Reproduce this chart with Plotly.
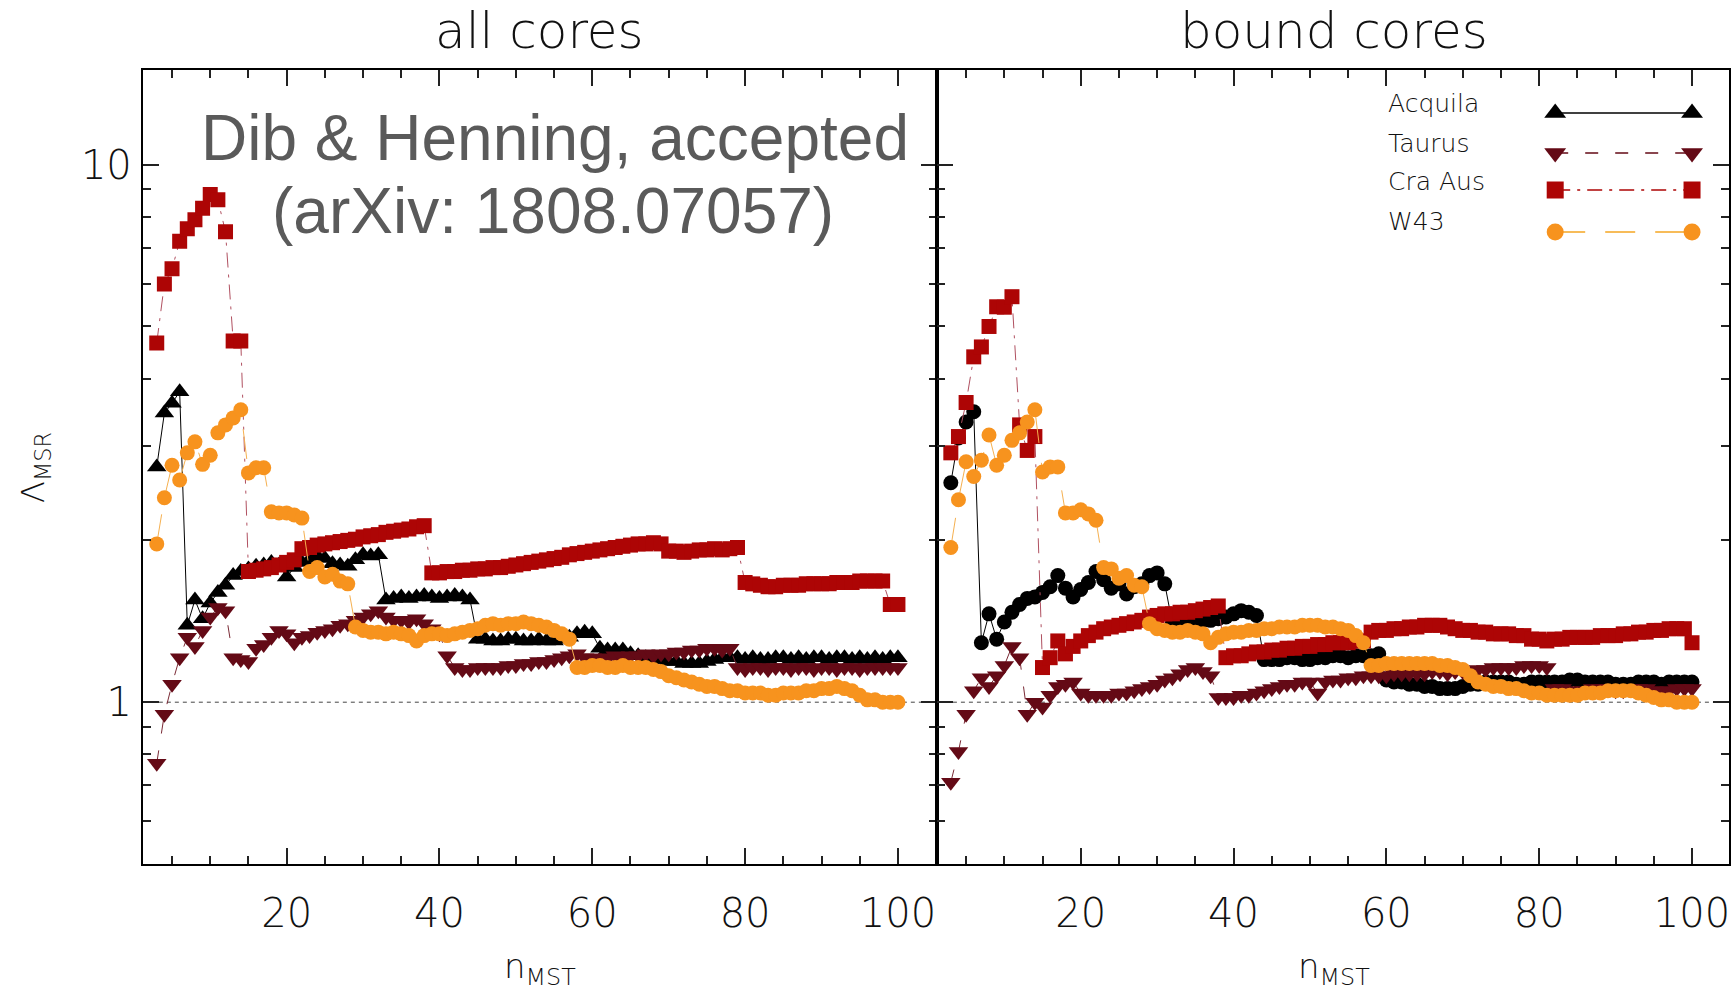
import math
import plotly.graph_objects as go

W, H = 1731, 992

# ---------------- data ----------------
N_MST = list(range(3, 101))
SERIES = ["Acquila", "Taurus", "Cra Aus", "W43"]

# all cores
AQ_ALL = [2.74, 3.45, 3.60, 3.78, 1.39, 1.55, 1.43, 1.53, 1.60, 1.65, 1.72, 1.75,
          1.77, 1.79, 1.80, 1.82, 1.80,
          1.71, 1.78, 1.82, 1.84, 1.87, 1.85, 1.81, 1.80, 1.79, 1.84, 1.88, 1.87, 1.88,
          1.55, 1.56, 1.57, 1.56, 1.57, 1.58, 1.57, 1.56, 1.57, 1.58, 1.57, 1.55,
          1.31, 1.31, 1.30, 1.30, 1.31, 1.31, 1.30, 1.30, 1.31, 1.30, 1.30, 1.31, 1.32, 1.34, 1.35, 1.34,
          1.26, 1.25, 1.25, 1.25, 1.23, 1.22, 1.21, 1.20, 1.20, 1.19, 1.19, 1.18, 1.18, 1.18, 1.19, 1.20, 1.21, 1.21,
          1.21, 1.20, 1.21, 1.20, 1.20, 1.21, 1.21, 1.20, 1.21, 1.20, 1.21, 1.21, 1.20, 1.21, 1.21, 1.20, 1.21, 1.20, 1.21, 1.20, 1.21, 1.21]
TA_ALL = [0.77, 0.95, 1.08, 1.21, 1.32, 1.27, 1.36, 1.44, 1.50, 1.48, 1.21, 1.20, 1.19, 1.26, 1.28, 1.32, 1.36, 1.34, 1.29, 1.32,
          1.33, 1.35, 1.36, 1.37, 1.39, 1.40, 1.42, 1.44, 1.46, 1.48,
          1.44, 1.42, 1.42, 1.41, 1.43, 1.40, 1.37, 1.34,
          1.22, 1.16, 1.15, 1.15, 1.16, 1.16, 1.16,
          1.16, 1.17, 1.17, 1.18, 1.18, 1.19, 1.19, 1.20, 1.21, 1.22, 1.23,
          1.21, 1.21, 1.20, 1.21, 1.22, 1.21, 1.22, 1.22, 1.23, 1.22, 1.23, 1.23, 1.24, 1.24, 1.25, 1.25, 1.26, 1.26, 1.25, 1.26,
          1.16, 1.15, 1.16, 1.16, 1.15, 1.16, 1.16, 1.15, 1.16, 1.16, 1.15, 1.16, 1.16, 1.15, 1.16, 1.16, 1.15, 1.16, 1.16, 1.16, 1.16, 1.16]
CRA_ALL = [4.66, 6.0, 6.4, 7.2, 7.6, 7.9, 8.3, 8.8, 8.6, 7.5, 4.7, 4.7,
           1.75, 1.76, 1.77, 1.78, 1.80, 1.82, 1.84,
           1.93, 1.94, 1.96, 1.97, 1.98, 1.99, 2.00, 2.01, 2.03, 2.04, 2.05, 2.07, 2.08, 2.09, 2.10, 2.12, 2.13,
           1.74, 1.74, 1.75, 1.75, 1.76, 1.76, 1.77, 1.77, 1.78,
           1.78, 1.79, 1.80, 1.81, 1.82, 1.83, 1.84, 1.85, 1.86, 1.88, 1.89, 1.90,
           1.91, 1.92, 1.93, 1.94, 1.95, 1.96, 1.97, 1.97, 1.98, 1.97,
           1.91, 1.91, 1.90, 1.91, 1.92, 1.92, 1.93, 1.92, 1.93, 1.94,
           1.67, 1.66, 1.65, 1.64, 1.64, 1.65, 1.65, 1.65, 1.66, 1.66, 1.66, 1.66, 1.67, 1.67, 1.67, 1.68, 1.68, 1.68, 1.68,
           1.52, 1.52]
W43_ALL = [1.97, 2.40, 2.76, 2.59, 2.91, 3.05, 2.77, 2.88, 3.17, 3.28, 3.38, 3.50, 2.67, 2.73, 2.73, 2.26, 2.25, 2.25, 2.23, 2.20,
           1.75, 1.78, 1.71, 1.73, 1.68, 1.66,
           1.38, 1.36, 1.35, 1.35, 1.34, 1.35, 1.34, 1.33, 1.30, 1.33, 1.34, 1.34, 1.33, 1.34, 1.35, 1.36, 1.37, 1.39, 1.40,
           1.39, 1.40, 1.40, 1.41, 1.40, 1.39, 1.38, 1.36, 1.34, 1.31,
           1.16, 1.16, 1.17, 1.17, 1.16, 1.16, 1.17, 1.16, 1.16, 1.16, 1.15, 1.14,
           1.12, 1.11, 1.10, 1.09, 1.08, 1.07, 1.07, 1.06, 1.05, 1.05, 1.04, 1.04, 1.04, 1.03, 1.03, 1.04, 1.04, 1.04,
           1.05, 1.05, 1.06, 1.06, 1.07, 1.06, 1.05, 1.03, 1.01, 1.01, 1.00, 1.00, 1.00]

# bound cores
AQ_BND = [2.56, 3.10, 3.32, 3.47, 1.29, 1.46, 1.31, 1.41, 1.47, 1.52, 1.56, 1.57, 1.60, 1.64, 1.72, 1.63, 1.57, 1.62, 1.67,
          1.75, 1.69, 1.63, 1.66, 1.59, 1.64, 1.66, 1.72, 1.74, 1.66,
          1.40, 1.40, 1.41, 1.41, 1.42, 1.42, 1.43, 1.44, 1.46, 1.48, 1.47, 1.45,
          1.20, 1.20, 1.20, 1.21, 1.21, 1.20, 1.20, 1.21, 1.21, 1.22, 1.22, 1.21, 1.22, 1.22, 1.22, 1.23,
          1.10, 1.09, 1.09, 1.08, 1.08, 1.07, 1.07, 1.06, 1.06, 1.06, 1.07, 1.08, 1.08, 1.09, 1.09, 1.09, 1.09, 1.08, 1.08, 1.09,
          1.09, 1.09, 1.09, 1.09, 1.10, 1.10, 1.09, 1.09, 1.09, 1.09, 1.08, 1.08, 1.08, 1.09, 1.09, 1.09, 1.08, 1.09, 1.09, 1.09, 1.09]
TA_BND = [0.71, 0.81, 0.95, 1.05, 1.11, 1.07, 1.12, 1.17, 1.27, 1.21, 0.95, 1.00, 0.98, 1.03, 1.07, 1.08, 1.09,
          1.04, 1.03, 1.03, 1.03, 1.03, 1.04, 1.04, 1.05, 1.06, 1.07, 1.08, 1.10, 1.11, 1.13, 1.15, 1.16, 1.14, 1.12,
          1.02, 1.02, 1.02, 1.03, 1.03, 1.04, 1.05, 1.06, 1.07, 1.08, 1.08, 1.09, 1.09,
          1.04,
          1.09, 1.10, 1.10, 1.11, 1.11, 1.12, 1.12, 1.12, 1.12, 1.13, 1.13, 1.13, 1.13, 1.13, 1.14, 1.14, 1.13, 1.14, 1.14, 1.14,
          1.15, 1.15, 1.16, 1.16, 1.16, 1.16, 1.17, 1.17, 1.17, 1.16,
          1.06, 1.06, 1.05, 1.05, 1.05, 1.06, 1.06, 1.06, 1.05, 1.05, 1.06, 1.06, 1.06, 1.05, 1.05, 1.05, 1.06, 1.06, 1.06]
CRA_BND = [2.91, 3.12, 3.61, 4.39, 4.58, 5.00, 5.44, 5.43, 5.68, 3.28, 2.94, 3.12,
           1.16, 1.21, 1.30, 1.23, 1.27, 1.30, 1.33, 1.35, 1.37, 1.38, 1.39, 1.40, 1.41, 1.42, 1.44, 1.45, 1.46, 1.46,
           1.47, 1.47, 1.48, 1.49, 1.50, 1.51,
           1.21, 1.22, 1.22, 1.23, 1.24, 1.24, 1.25, 1.25, 1.26, 1.26, 1.27, 1.27, 1.28, 1.28, 1.29, 1.29, 1.29, 1.30, 1.30,
           1.35, 1.36, 1.36, 1.37, 1.37, 1.38, 1.38, 1.39, 1.39, 1.39, 1.38, 1.37, 1.36, 1.36, 1.35, 1.35, 1.34, 1.34, 1.34, 1.33,
           1.33, 1.31, 1.31, 1.30, 1.31, 1.31, 1.32, 1.32, 1.32, 1.32, 1.33, 1.33, 1.33, 1.34, 1.34, 1.35, 1.35, 1.36, 1.36, 1.37,
           1.37, 1.37,
           1.29]
W43_BND = [1.94, 2.38, 2.80, 2.63, 2.82, 3.14, 2.76, 2.88, 3.07, 3.17, 3.32, 3.50, 2.68, 2.74, 2.74, 2.25, 2.25, 2.28, 2.24, 2.18,
           1.78, 1.77, 1.70, 1.72, 1.65, 1.64,
           1.40, 1.37, 1.36, 1.35, 1.35, 1.36, 1.35, 1.34, 1.29, 1.32, 1.34, 1.35, 1.35, 1.36, 1.36, 1.37, 1.37, 1.38, 1.38, 1.38,
           1.39, 1.39, 1.39, 1.38, 1.38, 1.37, 1.36, 1.33, 1.29,
           1.17, 1.17, 1.18, 1.18, 1.18, 1.18, 1.18, 1.18, 1.18, 1.17, 1.17, 1.16, 1.15, 1.12, 1.09, 1.08, 1.07, 1.07, 1.06, 1.06,
           1.05, 1.04, 1.04, 1.03, 1.03, 1.03, 1.03, 1.03, 1.04, 1.04, 1.04, 1.05, 1.05, 1.05, 1.05, 1.04, 1.03, 1.02, 1.01, 1.01,
           1.00, 1.00, 1.00]

PANEL_TITLES = ["all cores", "bound cores"]
X_TICKS = [20, 40, 60, 80, 100]
X_MINOR = [5, 10, 15, 25, 30, 35, 45, 50, 55, 65, 70, 75, 85, 90, 95, 105]
Y_TICKS = [1, 10]
Y_TICKTEXT = ["1", "10"]
Y_MINOR = [0.6, 0.7, 0.8, 0.9, 2, 3, 4, 5, 6, 7, 8, 9]
Y_RANGE = [0.5, 15.0]

ALL = [AQ_ALL, TA_ALL, CRA_ALL, W43_ALL]
BND = [AQ_BND, TA_BND, CRA_BND, W43_BND]
for nm, arr in zip(["AQ_ALL", "TA_ALL", "CRA_ALL", "W43_ALL", "AQ_BND", "TA_BND", "CRA_BND", "W43_BND"], ALL + BND):
    if len(arr) != len(N_MST):
        raise ValueError(f"{nm} has {len(arr)} values")

# ---------------- styles ----------------
COLORS = {"Acquila": "#000000", "Taurus": "#640a16", "Cra Aus": "#ad0505", "W43": "#f7931e"}
DASH = {"Acquila": "solid", "Taurus": "13px,17px", "Cra Aus": "15px,7px,3px,7px", "W43": "30px,20px"}
SYM_ALL = {"Acquila": "triangle-up", "Taurus": "triangle-down", "Cra Aus": "square", "W43": "circle"}
SYM_BND = {"Acquila": "circle", "Taurus": "triangle-down", "Cra Aus": "square", "W43": "circle"}
MSIZE = {"triangle-up": 17, "triangle-down": 17, "square": 15, "circle": 15}
LINE_COL = {"Acquila": "#000000", "Taurus": "#7a2a35", "Cra Aus": "#b05060", "W43": "#f5b050"}

FONT_GEO = "DejaVu Sans"
GEO_WEIGHT = 200
FONT_NOTE = "Liberation Sans, Arial, sans-serif"

X_SCALE = 7.65  # px per unit
XL = [143, 938]
XR = [938, W]
Y_TOP, Y_BOT = 70, 864

fig = go.Figure()

for i, name in enumerate(SERIES):
    for data, sym, xa, ya in [(ALL[i], SYM_ALL, "x", "y"), (BND[i], SYM_BND, "x2", "y2")]:
        fig.add_trace(go.Scatter(
            x=N_MST, y=data, mode="lines+markers", xaxis=xa, yaxis=ya,
            line=dict(color=LINE_COL[name], width=1, dash=DASH[name]),
            marker=dict(symbol=sym[name], size=MSIZE[sym[name]], color=COLORS[name], line=dict(width=0)),
            showlegend=False, hoverinfo="skip"))

# legend (drawn on an overlay pixel-space axis)
LEG_TEXT_X = 1388
LEG_SYM_X = [1557, 1694]
LEG_TEXT_Y = [103, 143, 181, 221]
LEG_LINE_Y = [113, 153, 190, 232]
for i, name in enumerate(SERIES):
    fig.add_trace(go.Scatter(
        x=LEG_SYM_X, y=[LEG_LINE_Y[i]] * 2, mode="lines+markers", xaxis="x3", yaxis="y3",
        line=dict(color=COLORS[name] if name != "W43" else "#f5a623", width=1.5, dash=DASH[name]),
        marker=dict(symbol=SYM_ALL[name], size=MSIZE[SYM_ALL[name]] + 2, color=COLORS[name], line=dict(width=0)),
        showlegend=False, hoverinfo="skip"))

geo = lambda s, w=GEO_WEIGHT: dict(family=FONT_GEO, size=s, color="#111", weight=w)

annotations = []
for i, name in enumerate(SERIES):
    annotations.append(dict(x=LEG_TEXT_X / W, y=1 - LEG_TEXT_Y[i] / H, xref="paper", yref="paper",
                            text=name, showarrow=False, xanchor="left", yanchor="middle", font=geo(25, 300)))

# panel titles
for t, xr in zip(PANEL_TITLES, [XL, [938, 1733]]):
    annotations.append(dict(x=(xr[0] + xr[1]) / 2 / W, y=1 - 31 / H, xref="paper", yref="paper",
                            text=t, showarrow=False, xanchor="center", yanchor="middle", font=geo(50)))
    annotations.append(dict(x=(xr[0] + xr[1]) / 2 / W, y=1 - 968 / H, xref="paper", yref="paper",
                            text="n<sub>MST</sub>", showarrow=False, xanchor="center", yanchor="middle",
                            font=geo(34)))

annotations.append(dict(x=35 / W, y=1 - 467 / H, xref="paper", yref="paper", text="Λ<sub>MSR</sub>",
                        textangle=-90, showarrow=False, xanchor="center", yanchor="middle", font=geo(32)))

annotations.append(dict(x=556 / W, y=1 - 138 / H, xref="paper", yref="paper", text="Dib &amp; Henning, accepted",
                        showarrow=False, xanchor="center", yanchor="middle",
                        font=dict(family=FONT_NOTE, size=64, color="#5a5a5a")))
annotations.append(dict(x=554 / W, y=1 - 211 / H, xref="paper", yref="paper", text="(arXiv: 1808.07057)",
                        showarrow=False, xanchor="center", yanchor="middle",
                        font=dict(family=FONT_NOTE, size=64, color="#5a5a5a")))

common_x = dict(showline=True, linewidth=2, linecolor="#000", mirror="allticks",
                ticks="inside", ticklen=16, tickwidth=2, tickcolor="#222",
                tickmode="array", tickvals=X_TICKS, showgrid=False, zeroline=False,
                minor=dict(tickmode="array", tickvals=X_MINOR, ticks="inside", ticklen=8, tickwidth=1.5,
                           tickcolor="#222", showgrid=False),
                tickfont=geo(40), ticklabelstandoff=13)
common_y = dict(type="log", range=[math.log10(Y_RANGE[0]), math.log10(Y_RANGE[1])],
                showline=True, linewidth=2, linecolor="#000", mirror="allticks",
                ticks="inside", ticklen=16, tickwidth=2, tickcolor="#222",
                tickmode="array", tickvals=Y_TICKS, ticktext=Y_TICKTEXT, showgrid=False, zeroline=False,
                minor=dict(tickmode="array", tickvals=Y_MINOR, ticks="inside", ticklen=8, tickwidth=1.5,
                           tickcolor="#222", showgrid=False),
                tickfont=geo(40), ticklabelstandoff=1)

y_dom = [1 - Y_BOT / H, 1 - Y_TOP / H]
x0 = 1.18
fig.update_layout(
    width=W, height=H, autosize=False,
    margin=dict(l=0, r=0, t=0, b=0, pad=0),
    paper_bgcolor="white", plot_bgcolor="rgba(0,0,0,0)",
    xaxis=dict(domain=[XL[0] / W, XL[1] / W], range=[x0, x0 + (XL[1] - XL[0]) / X_SCALE], anchor="y", **common_x),
    yaxis=dict(domain=y_dom, anchor="x", **common_y),
    xaxis2=dict(domain=[XR[0] / W, XR[1] / W], range=[x0, x0 + (XR[1] - XR[0]) / X_SCALE], anchor="y2", **common_x),
    yaxis2=dict(domain=y_dom, anchor="x2", showticklabels=False, **common_y),
    xaxis3=dict(domain=[0, 1], range=[0, W], visible=False, anchor="y3", fixedrange=True),
    yaxis3=dict(domain=[0, 1], range=[H, 0], visible=False, anchor="x3", fixedrange=True),
    annotations=annotations,
    shapes=[dict(type="line", xref=f"{xa} domain", x0=0, x1=1, yref=ya, y0=1, y1=1,
                 line=dict(color="#444", width=1, dash="4px,4px"), layer="below")
            for xa, ya in [("x", "y"), ("x2", "y2")]],
)

fig.write_html("out.html")
